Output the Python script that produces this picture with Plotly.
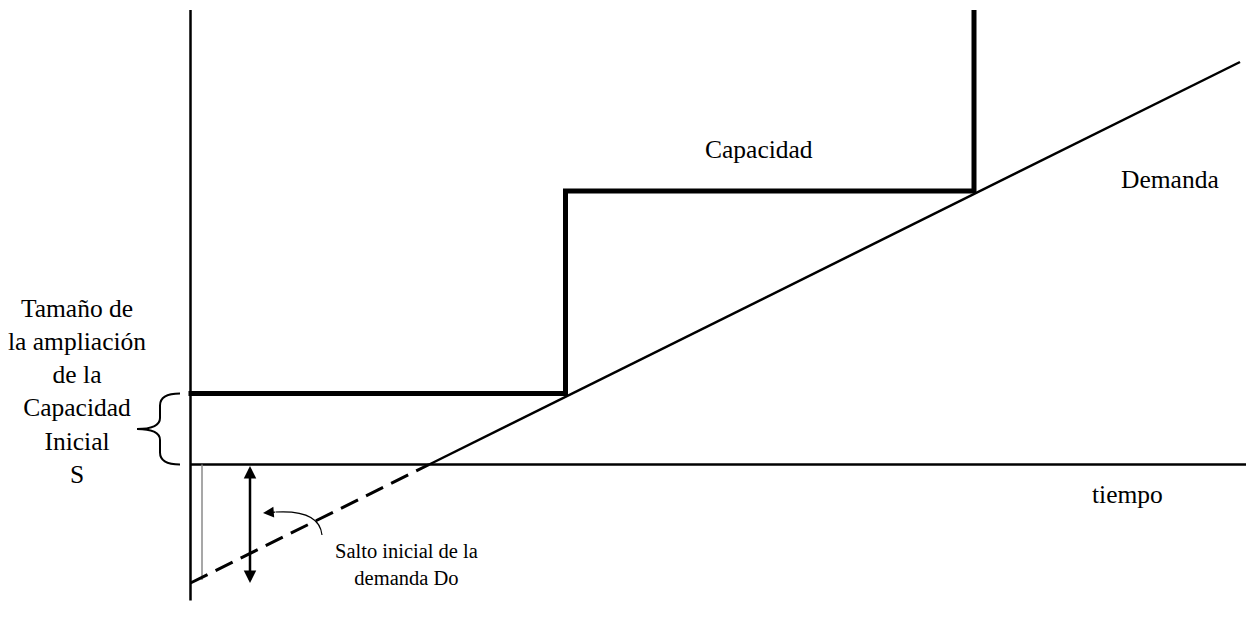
import plotly.graph_objects as go

# ---- data (abstract units: t = time, q = quantity) ----
cap_t = [-0.02, 3.75, 3.75, 7.835, 7.835]
cap_q = [7.1, 7.1, 27.35, 27.35, 45.45]

dem_dash_t = [0.0, 2.387]
dem_dash_q = [-11.85, 0.0]
dem_solid_t = [2.387, 10.495]
dem_solid_q = [0.0, 40.25]

axis_v_t = [0.0, 0.0]
axis_v_q = [-13.6, 45.45]
axis_h_t = [0.0, 10.7]
axis_h_q = [0.0, 0.0]

guide_t = [0.115, 0.115]
guide_q = [0.0, -11.55]

jump_t = 0.595
jump_q = [0.0, -11.85]

S_top = 7.1
S_bottom = 0.0

FONT = "Liberation Serif, Times New Roman, serif"

fig = go.Figure()

fig.add_trace(go.Scatter(x=axis_v_t, y=axis_v_q, mode="lines",
                         line=dict(color="black", width=2.5), hoverinfo="skip"))
fig.add_trace(go.Scatter(x=axis_h_t, y=axis_h_q, mode="lines",
                         line=dict(color="black", width=2.5), hoverinfo="skip"))
fig.add_trace(go.Scatter(x=guide_t, y=guide_q, mode="lines",
                         line=dict(color="#8a8a8a", width=1.5), hoverinfo="skip"))
fig.add_trace(go.Scatter(x=dem_dash_t, y=dem_dash_q, mode="lines",
                         line=dict(color="black", width=3, dash="19px,9px"), hoverinfo="skip"))
fig.add_trace(go.Scatter(x=dem_solid_t, y=dem_solid_q, mode="lines",
                         line=dict(color="black", width=2.5), hoverinfo="skip"))
fig.add_trace(go.Scatter(x=cap_t, y=cap_q, mode="lines",
                         line=dict(color="black", width=5), hoverinfo="skip"))

# double arrow (initial demand jump)
fig.add_annotation(x=jump_t, y=jump_q[1], ax=jump_t, ay=jump_q[0], xref="x", yref="y",
                   axref="x", ayref="y", text="", showarrow=True, arrowhead=2,
                   arrowside="end+start", arrowsize=1, arrowwidth=2.5, arrowcolor="black")

# curved pointer arrow
fig.add_shape(type="path", xref="x", yref="y",
              path="M 1.315,-7.05 Q 1.29,-4.5 0.85,-4.75",
              line=dict(color="black", width=1.2))
fig.add_annotation(x=0.725, y=-4.85, ax=0.86, ay=-4.75, xref="x", yref="y",
                   axref="x", ayref="y", text="", showarrow=True, arrowhead=2,
                   arrowsize=1.8, arrowwidth=1.2, arrowcolor="black")

# brace
tip_t, mid_t, end_t = -0.535, -0.305, -0.105
mid_q = (S_top + S_bottom) / 2
brace = (f"M {end_t},{S_top} Q {mid_t},{S_top} {mid_t},{S_top-1.2} "
         f"L {mid_t},{mid_q+1.1} Q {mid_t},{mid_q} {tip_t},{mid_q} "
         f"Q {mid_t},{mid_q} {mid_t},{mid_q-1.1} "
         f"L {mid_t},{S_bottom+1.2} Q {mid_t},{S_bottom} {end_t},{S_bottom}")
fig.add_shape(type="path", xref="x", yref="y", path=brace,
              line=dict(color="black", width=2))

# text labels
big = dict(family=FONT, size=25.5, color="black")
small = dict(family=FONT, size=20.5, color="black")
fig.add_annotation(x=5.685, y=31.55, text="Capacidad", showarrow=False, font=big)
fig.add_annotation(x=9.795, y=28.55, text="Demanda", showarrow=False, font=big)
fig.add_annotation(x=9.37, y=-2.95, text="tiempo", showarrow=False, font=big)
fig.add_annotation(x=-1.135, y=7.3,
                   text="Tamaño de<br>la ampliación<br>de la<br>Capacidad<br>Inicial<br>S",
                   showarrow=False, font=big, align="center")
fig.add_annotation(x=2.155, y=-9.95, text="Salto inicial de la<br>demanda Do",
                   showarrow=False, font=small, align="center")

# page body has an 8px margin: figure covers window pixels 8..1246 x 8..620
fig.update_layout(
    width=1238, height=612,
    margin=dict(l=0, r=0, t=0, b=0),
    paper_bgcolor="white", plot_bgcolor="white",
    showlegend=False,
    xaxis=dict(range=[-1.825, 10.555], visible=False, fixedrange=True),
    yaxis=dict(range=[-15.55, 45.65], visible=False, fixedrange=True),
)

fig.write_html("out.html", config={"displayModeBar": False})
